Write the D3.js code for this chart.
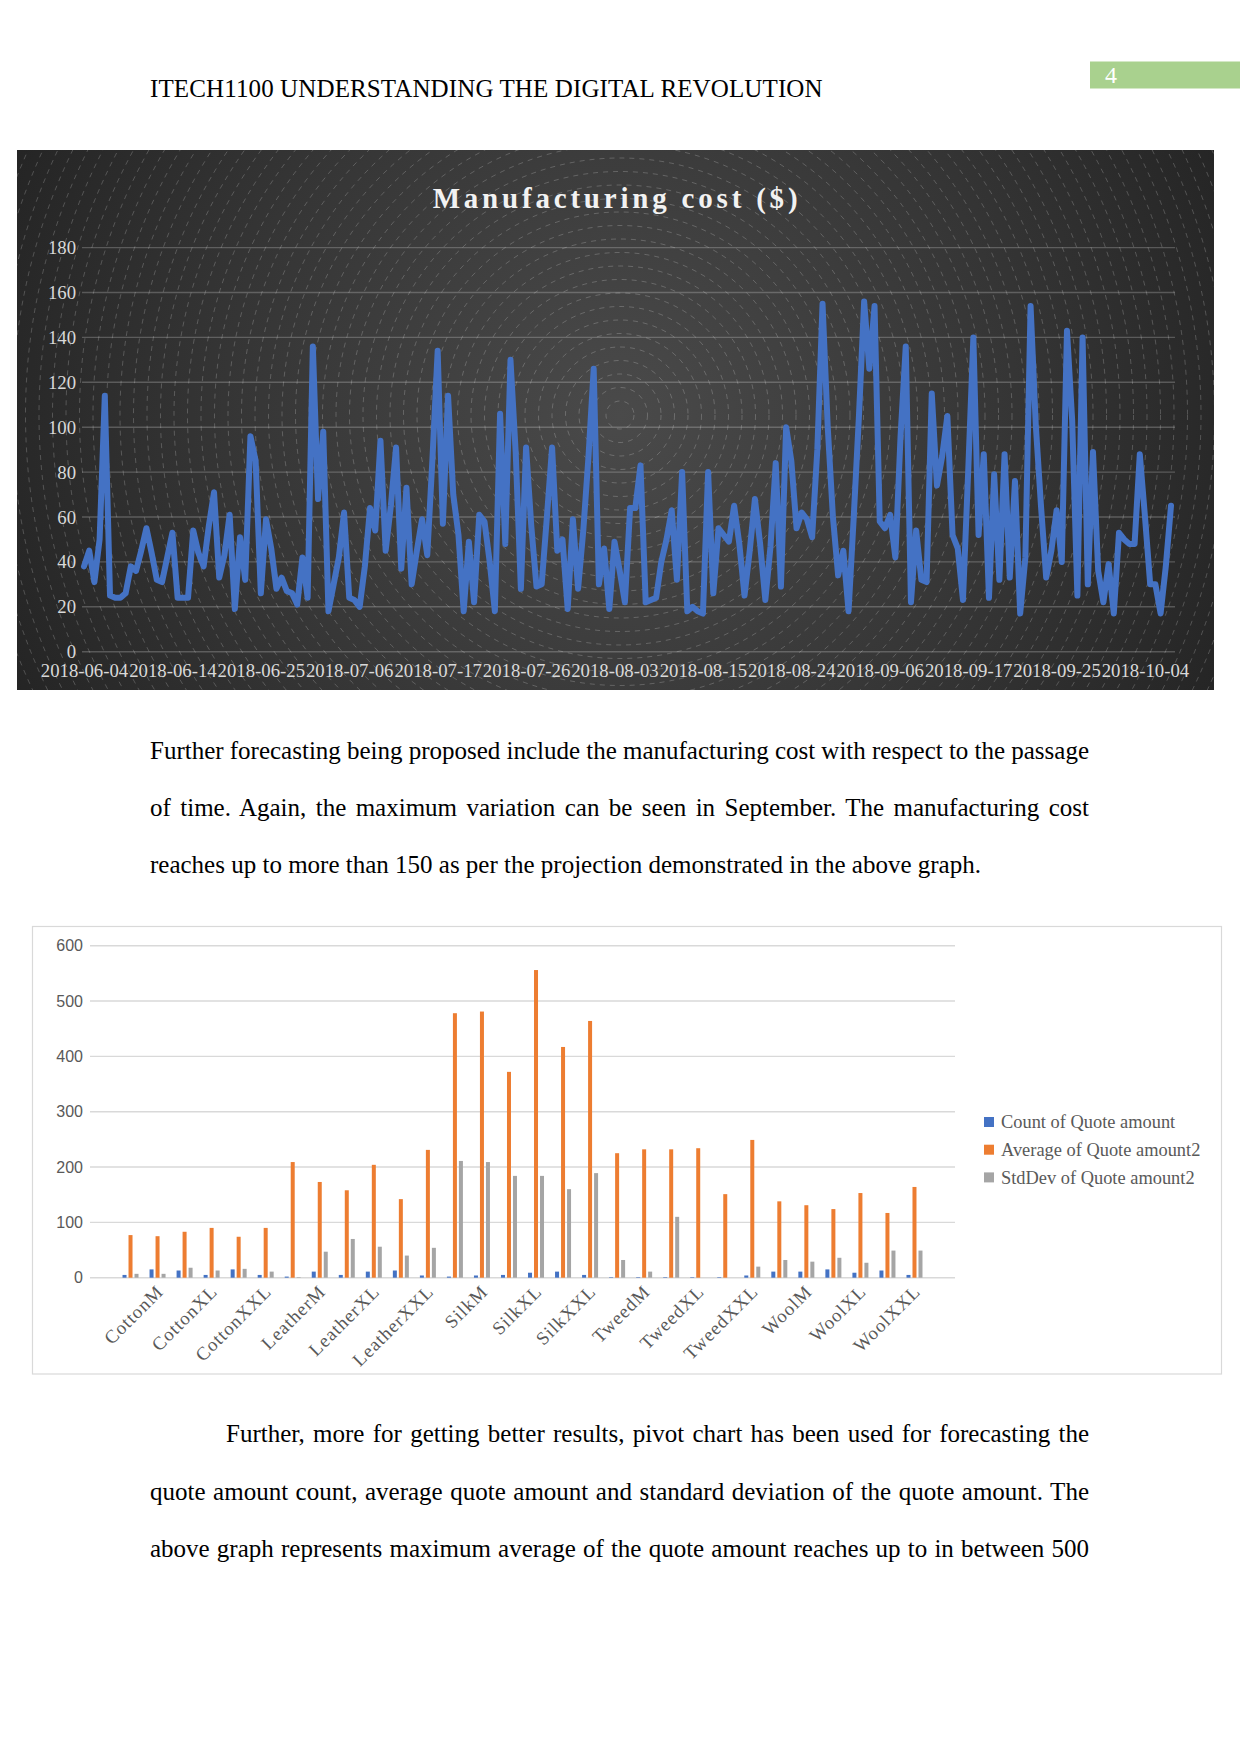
<!DOCTYPE html>
<html><head><meta charset="utf-8">
<script src="https://cdn.jsdelivr.net/npm/d3@7/dist/d3.min.js"></script>
<style>
html,body{margin:0;padding:0;background:#fff;}
body{width:1241px;height:1754px;position:relative;overflow:hidden;}
svg{position:absolute;left:0;top:0;}
</style></head><body>
<svg id="page" width="1241" height="1754"></svg>
<script>
// ---------- DATA ----------
const headerText = "ITECH1100 UNDERSTANDING THE DIGITAL REVOLUTION";
const pageNumber = "4";

const costTitle = "Manufacturing cost ($)";
const costTickLabels = ["2018-06-04","2018-06-14","2018-06-25","2018-07-06","2018-07-17","2018-07-26","2018-08-03","2018-08-15","2018-08-24","2018-09-06","2018-09-17","2018-09-25","2018-10-04"];
const costTickEvery = 17;
const costYTicks = [0,20,40,60,80,100,120,140,160,180];
const cost = [
 38,45,31,50,114,25,24,24,26,38, 36,45,55,44,32,31,42,53,24,24,
 24,54,44,38,56,71,33,43,61,19, 51,32,96,85,26,59,46,28,33,27,
 26,21,42,24,136,68,98,18,30,42, 62,24,23,20,38,64,54,94,45,65,
 91,37,73,30,45,59,43,86,134,57, 114,70,52,18,49,22,61,58,40,18,
 106,48,130,89,28,91,56,29,30,60, 91,45,50,19,59,28,54,87,126,30,
 46,19,49,36,22,64,64,83,22,23, 24,40,50,63,32,80,18,20,18,17,
 80,26,55,52,49,65,48,25,45,68, 48,23,47,84,29,100,85,55,62,59,
 51,90,155,100,60,34,45,18,60,105, 156,126,154,58,55,61,42,96,136,22,
 54,32,31,115,74,87,105,52,46,23, 80,140,52,88,24,79,32,88,33,76,
 17,42,154,101,65,33,45,63,40,143, 103,25,140,30,89,36,22,39,17,53,
 50,48,48,88,60,30,30,17,38,65
];

const para1 = [
 "Further forecasting being proposed include the manufacturing cost with respect to the passage",
 "of time. Again, the maximum variation can be seen in September. The manufacturing cost",
 "reaches up to more than 150 as per the projection demonstrated in the above graph."
];
const para2 = [
 "Further, more for getting better results, pivot chart has been used for forecasting the",
 "quote amount count, average quote amount and standard deviation of the quote amount. The",
 "above graph represents maximum average of the quote amount reaches up to in between 500"
];

const categories = ["CottonL","CottonM","CottonS","CottonXL","CottonXS","CottonXXL",
 "LeatherL","LeatherM","LeatherS","LeatherXL","LeatherXS","LeatherXXL",
 "SilkL","SilkM","SilkS","SilkXL","SilkXS","SilkXXL",
 "TweedL","TweedM","TweedS","TweedXL","TweedXS","TweedXXL",
 "WoolL","WoolM","WoolS","WoolXL","WoolXS","WoolXXL"];
const seriesNames = ["Count of Quote amount","Average of Quote amount2","StdDev of Quote amount2"];
const countQuote = [5,15,13,5,15,5, 2,11,5,11,13,4, 2,4,5,9,11,5, 1,1,1,1,1,4, 11,11,15,9,13,5];
const avgQuote = [77,75,83,90,74,90, 209,173,158,204,142,231, 478,481,372,556,417,464, 225,232,232,234,151,249, 138,131,124,153,117,164];
const stdQuote = [7,7,18,13,16,11, 1,47,70,56,40,54, 211,209,184,184,160,189, 32,11,110,0,0,20, 32,29,36,27,49,49];
const barYTicks = [0,100,200,300,400,500,600];
const seriesColors = ["#4472C4","#ED7D31","#A5A5A5"];

// ---------- PAGE ----------
const svg = d3.select("#page");
const serif = "'Liberation Serif','Times New Roman',serif";
const sans = "'Liberation Sans',Arial,sans-serif";

svg.append("text").attr("x",150).attr("y",97).attr("font-family",serif).attr("font-size",25)
  .attr("letter-spacing",0.12).attr("fill","#000").text(headerText);
svg.append("rect").attr("x",1090).attr("y",61.5).attr("width",150).attr("height",27).attr("fill","#A9D18E");
svg.append("text").attr("x",1105).attr("y",83).attr("font-family",serif).attr("font-size",24)
  .attr("fill","#fff").text(pageNumber);

// ---------- LINE CHART ----------
const box = {x:17, y:150, w:1197, h:540};
const defs = svg.append("defs");
const rg = defs.append("radialGradient").attr("id","bgGrad").attr("gradientUnits","userSpaceOnUse")
  .attr("cx",620).attr("cy",415).attr("r",720);
rg.append("stop").attr("offset",0).attr("stop-color","#4a4a4a");
rg.append("stop").attr("offset",0.55).attr("stop-color","#353535");
rg.append("stop").attr("offset",1).attr("stop-color","#212121");
defs.append("clipPath").attr("id","boxClip").append("rect")
  .attr("x",box.x).attr("y",box.y).attr("width",box.w).attr("height",box.h);

const lc = svg.append("g");
lc.append("rect").attr("x",box.x).attr("y",box.y).attr("width",box.w).attr("height",box.h).attr("fill","url(#bgGrad)");
const rings = lc.append("g").attr("clip-path","url(#boxClip)");
rings.selectAll("circle").data(d3.range(14, 760, 13.5)).join("circle")
  .attr("cx",620).attr("cy",415).attr("r",d=>d)
  .attr("fill","none").attr("stroke","rgba(255,255,255,0.26)").attr("stroke-width",0.8)
  .attr("stroke-dasharray","5 5");

const xL = d3.scalePoint().domain(d3.range(cost.length)).range([84,1171]);
const yL = d3.scaleLinear().domain([0,180]).range([651.7,247.6]);

lc.append("g").selectAll("line").data(costYTicks).join("line")
  .attr("x1",82).attr("x2",1175).attr("y1",d=>yL(d)).attr("y2",d=>yL(d))
  .attr("stroke","rgba(255,255,255,0.22)").attr("stroke-width",1.4);

const yAxL = lc.append("g").attr("transform","translate(82,0)")
  .call(d3.axisLeft(yL).tickValues(costYTicks).tickSize(0).tickPadding(6));
yAxL.select(".domain").remove();
yAxL.selectAll("text").attr("font-family",serif).attr("font-size",18.75).attr("fill","#d9d9d9");

const xTickIdx = costTickLabels.map((d,i)=>i*costTickEvery);
const xAxL = lc.append("g").attr("transform","translate(0,651.7)")
  .call(d3.axisBottom(xL).tickValues(xTickIdx).tickFormat(i=>costTickLabels[i/costTickEvery]).tickSize(0).tickPadding(12));
xAxL.select(".domain").remove();
xAxL.selectAll("text").attr("font-family",serif).attr("font-size",18.75).attr("fill","#d9d9d9");

lc.append("path").datum(cost)
  .attr("d", d3.line().x((d,i)=>xL(i)).y(d=>yL(d)))
  .attr("fill","none").attr("stroke","#4472C4").attr("stroke-width",6)
  .attr("stroke-linejoin","round").attr("stroke-linecap","round");

lc.append("text").attr("x",617).attr("y",208).attr("text-anchor","middle")
  .attr("font-family",serif).attr("font-weight","bold").attr("font-size",29)
  .attr("letter-spacing",3.8).attr("fill","#f2f2f2").text(costTitle);

// ---------- PARAGRAPHS ----------
function drawLines(lines, xs, ys, justify){
  lines.forEach((t,i)=>{
    const el = svg.append("text").attr("x",xs[i]).attr("y",ys[i])
      .attr("font-family",serif).attr("font-size",25).attr("fill","#000")
      .attr("xml:space","preserve").text(t);
    if (justify[i]) {
      const len = el.node().getComputedTextLength();
      const spaces = (t.match(/ /g)||[]).length;
      const target = 1089 - xs[i];
      if (spaces>0) el.attr("word-spacing", (target-len)/spaces);
    }
  });
}
drawLines(para1,[150,150,150],[759,816,873],[true,true,false]);
drawLines(para2,[226,150,150],[1442,1500,1557],[true,true,true]);

// ---------- BAR CHART ----------
const bc = svg.append("g");
bc.append("rect").attr("x",32.5).attr("y",926.5).attr("width",1189).attr("height",447.5)
  .attr("fill","#fff").attr("stroke","#d9d9d9").attr("stroke-width",1.2);

const yB = d3.scaleLinear().domain([0,600]).range([1277.7,945.7]);
const x0 = d3.scaleBand().domain(categories).range([117,928]);
const x1 = d3.scaleBand().domain(seriesNames).range([0,x0.bandwidth()]).paddingInner(1/3).paddingOuter(0.92);

bc.append("g").selectAll("line").data(barYTicks).join("line")
  .attr("x1",90).attr("x2",955).attr("y1",d=>yB(d)).attr("y2",d=>yB(d))
  .attr("stroke","#d9d9d9").attr("stroke-width",1.4);

const yAxB = bc.append("g").attr("transform","translate(90,0)")
  .call(d3.axisLeft(yB).tickValues(barYTicks).tickSize(0).tickPadding(7));
yAxB.select(".domain").remove();
yAxB.selectAll("text").attr("font-family",sans).attr("font-size",16).attr("fill","#595959");

const seriesData = [countQuote, avgQuote, stdQuote];
const groups = bc.append("g").selectAll("g").data(seriesNames).join("g")
  .attr("fill",(d,i)=>seriesColors[i]);
groups.selectAll("rect").data((s,si)=>categories.map((c,ci)=>({c, s, v:seriesData[si][ci]}))).join("rect")
  .attr("x",d=>x0(d.c)+x1(d.s)).attr("width",x1.bandwidth())
  .attr("y",d=>yB(d.v)).attr("height",d=>yB(0)-yB(d.v));

const xAxB = bc.append("g").attr("transform","translate(0,1277.7)")
  .call(d3.axisBottom(x0).tickValues(categories.filter((c,i)=>i%2===1)).tickSize(0).tickPadding(0));
xAxB.select(".domain").remove();
xAxB.selectAll("text")
  .attr("font-family",serif).attr("font-size",18.75).attr("fill","#595959").attr("letter-spacing",1)
  .attr("text-anchor","end").attr("dy",null).attr("y",0)
  .attr("transform","translate(7,15) rotate(-45)");

const lg = bc.append("g").selectAll("g").data(seriesNames).join("g")
  .attr("transform",(d,i)=>`translate(984,${1122+i*27.7})`);
lg.append("rect").attr("x",0).attr("y",-5).attr("width",10).attr("height",10).attr("fill",(d,i)=>seriesColors[i]);
lg.append("text").attr("x",17).attr("y",0).attr("dy","0.35em")
  .attr("font-family",serif).attr("font-size",18.4).attr("fill","#595959").text(d=>d);
</script>
</body></html>
